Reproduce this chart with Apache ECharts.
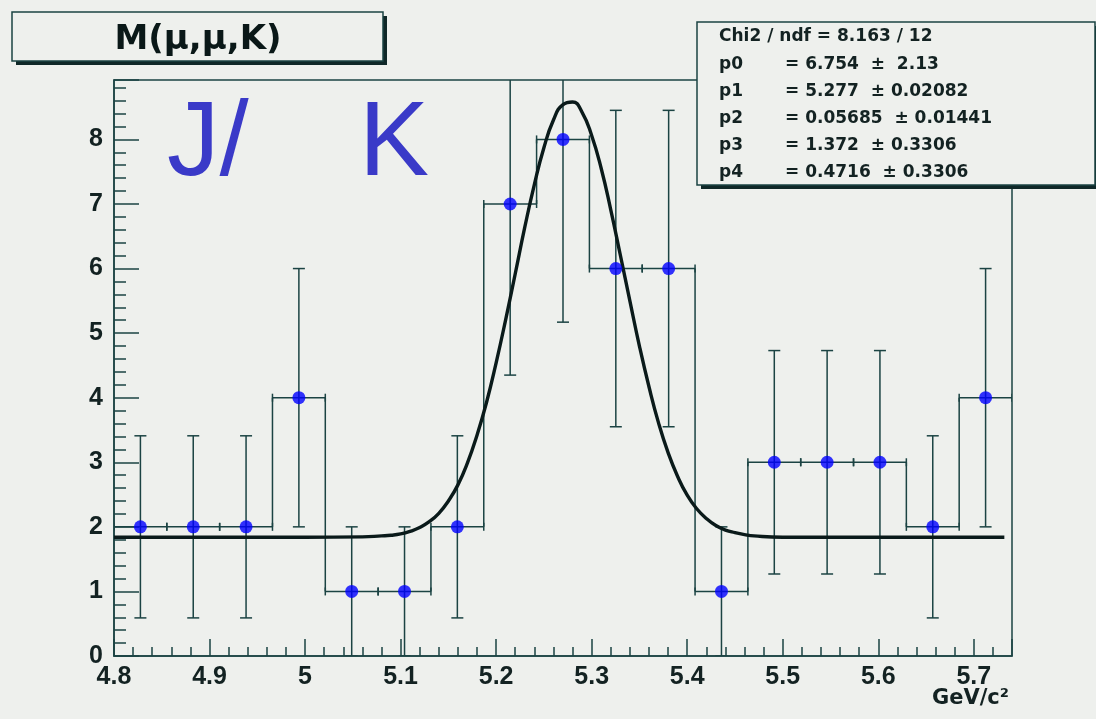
<!DOCTYPE html>
<html><head><meta charset="utf-8">
<script src="https://cdn.jsdelivr.net/npm/echarts@6/dist/echarts.min.js"></script>
<style>html,body{margin:0;padding:0;background:#eef0ed;}#c{width:1096px;height:719px;}</style>
</head><body><div id="c"></div>
<script>
// ---- data ----
const histRange = [4.8, 5.74];          // histogram x range (GeV/c^2)
const binCount = 17;
const counts = [2, 2, 2, 4, 1, 1, 2, 7, 8, 6, 6, 1, 3, 3, 3, 2, 4];
const errors = [1.41, 1.41, 1.41, 2.0, 1.0, 1.0, 1.41, 2.65, 2.83, 2.45, 2.45, 1.0, 1.73, 1.73, 1.73, 1.41, 2.0];
const fitX = [4.80, 5.00, 5.06, 5.08, 5.09, 5.10, 5.11, 5.12, 5.13, 5.14, 5.15, 5.16, 5.17, 5.18, 5.19, 5.20,
  5.21, 5.22, 5.23, 5.24, 5.25, 5.26, 5.27, 5.28, 5.29, 5.30, 5.31, 5.32, 5.33, 5.34, 5.35, 5.36, 5.37,
  5.38, 5.39, 5.40, 5.41, 5.42, 5.43, 5.44, 5.45, 5.46, 5.47, 5.50, 5.732];
const fitY = [1.84, 1.84, 1.845, 1.86, 1.87, 1.89, 1.93, 1.99, 2.08, 2.21, 2.40, 2.65, 2.99, 3.42, 3.93, 4.54,
  5.21, 5.92, 6.64, 7.30, 7.87, 8.30, 8.54, 8.58, 8.42, 8.06, 7.55, 6.91, 6.21, 5.50, 4.80, 4.17, 3.61,
  3.15, 2.78, 2.49, 2.28, 2.13, 2.02, 1.95, 1.91, 1.88, 1.86, 1.84, 1.84];
const yRange = [0, 8.92];
const titleText = 'M(\u03bc,\u03bc,K)';
const xAxisTitle = 'GeV/c\u00b2';
const statsHeader = 'Chi2 / ndf = 8.163 / 12';
const statNames = ['p0', 'p1', 'p2', 'p3', 'p4'];
const statValues = ['= 6.754  \u00b1  2.13', '= 5.277  \u00b1 0.02082', '= 0.05685  \u00b1 0.01441', '= 1.372  \u00b1 0.3306', '= 0.4716  \u00b1 0.3306'];
const bigLabels = ['J/', 'K'];

// ---- build ----
const BG = '#eef0ed';
const LINE = '#1b4343';
const TXT = '#132222';
const FONT = '"Liberation Sans", Arial, Helvetica, sans-serif';
const WFONT = '"DejaVu Sans", "Liberation Sans", sans-serif';
const binW = (histRange[1] - histRange[0]) / binCount;
const histData = counts.map((v, i) => [
  histRange[0] + i * binW, histRange[0] + (i + 1) * binW, v, errors[i], i > 0 ? counts[i - 1] : v
]);
const pointData = counts.map((v, i) => [histRange[0] + (i + 0.5) * binW, v]);
const fitData = fitX.map((x, i) => [x, fitY[i]]);

function isMult(v, step) { const r = v / step; return Math.abs(r - Math.round(r)) < 1e-6; }

const chart = echarts.init(document.getElementById('c'), null, {renderer: 'canvas'});
const labelStyle = {fontSize: 25, fontWeight: 'bold', color: TXT, fontFamily: FONT};
const lineSt = {color: LINE, width: 1.5};

const statsGraphics = [];
statsGraphics.push({type: 'rect', shape: {x: 701, y: 26, width: 398, height: 163}, style: {fill: '#0f2828'}, z: 100});
statsGraphics.push({type: 'rect', shape: {x: 697, y: 22, width: 398, height: 163}, style: {fill: BG, stroke: LINE, lineWidth: 1.5}, z: 101});
statsGraphics.push({type: 'text', x: 719, y: 37, style: {text: statsHeader, font: 'bold 17px ' + WFONT, fill: TXT, verticalAlign: 'middle'}, z: 102});
const rowY = [65, 92, 119, 146, 173];
statNames.forEach((n, i) => {
  statsGraphics.push({type: 'text', x: 719, y: rowY[i], style: {text: n, font: 'bold 17px ' + WFONT, fill: TXT, verticalAlign: 'middle'}, z: 102});
  statsGraphics.push({type: 'text', x: 785, y: rowY[i], style: {text: statValues[i], font: 'bold 17px ' + WFONT, fill: TXT, verticalAlign: 'middle'}, z: 102});
});

chart.setOption({
  backgroundColor: BG,
  animation: false,
  grid: {left: 114, right: 84, top: 80, bottom: 63, show: true, borderColor: LINE, borderWidth: 1.5, backgroundColor: 'transparent'},
  xAxis: [
    {type: 'value', min: histRange[0], max: histRange[1], interval: 0.1, position: 'bottom',
     axisLine: {show: true, lineStyle: lineSt}, axisTick: {show: true, inside: true, length: 17, lineStyle: lineSt},
     axisLabel: Object.assign({margin: 9, showMaxLabel: true, formatter: v => isMult(v, 0.1) ? String(+v.toFixed(1)) : ''}, labelStyle),
     splitLine: {show: false}},
    {type: 'value', min: histRange[0], max: histRange[1], interval: 0.02, position: 'bottom', offset: 0,
     axisLine: {show: false}, axisTick: {show: true, inside: true, length: 9, lineStyle: lineSt},
     axisLabel: {show: false}, splitLine: {show: false}}
  ],
  yAxis: [
    {type: 'value', min: yRange[0], max: yRange[1], interval: 1, position: 'left',
     axisLine: {show: true, lineStyle: lineSt}, axisTick: {show: true, inside: true, length: 25, lineStyle: lineSt},
     axisLabel: Object.assign({margin: 11, formatter: v => isMult(v, 1) ? String(Math.round(v)) : ''}, labelStyle),
     splitLine: {show: false}},
    {type: 'value', min: yRange[0], max: yRange[1], interval: 0.2, position: 'left', offset: 0,
     axisLine: {show: false}, axisTick: {show: true, inside: true, length: 12, lineStyle: lineSt},
     axisLabel: {show: false}, splitLine: {show: false}}
  ],
  series: [
    {type: 'custom', xAxisIndex: 0, yAxisIndex: 0, clip: true, z: 2, data: histData,
     encode: {x: [0, 1], y: [2]},
     renderItem(params, api) {
       const lo = api.value(0), hi = api.value(1), v = api.value(2), e = api.value(3), pv = api.value(4);
       const c = (lo + hi) / 2;
       const pL = api.coord([lo, v]), pR = api.coord([hi, v]);
       const cx = api.coord([c, v])[0];
       const pTop = api.coord([c, v + e]), pBot = api.coord([c, v - e]);
       const segs = [
         [pL[0], pL[1], pR[0], pR[1]],
         [pL[0], pL[1] - 4, pL[0], pL[1] + 4],
         [pR[0], pR[1] - 4, pR[0], pR[1] + 4],
         [cx, pTop[1], cx, pBot[1]],
         [cx - 6, pTop[1], cx + 6, pTop[1]],
         [cx - 6, pBot[1], cx + 6, pBot[1]]
       ];
       if (params.dataIndex > 0) {
         const pp = api.coord([lo, pv]);
         segs.push([pL[0], pp[1], pL[0], pL[1]]);
       }
       return {type: 'group', children: segs.map(s => ({type: 'line', shape: {x1: s[0], y1: s[1], x2: s[2], y2: s[3]},
         style: {stroke: LINE, lineWidth: 1.5, fill: null}}))};
     }},
    {type: 'line', xAxisIndex: 0, yAxisIndex: 0, data: fitData, smooth: true, showSymbol: false, symbol: 'none',
     clip: true, z: 4, lineStyle: {color: '#0a1a1a', width: 3.4}},
    {type: 'scatter', xAxisIndex: 0, yAxisIndex: 0, data: pointData, symbol: 'circle', symbolSize: 13, z: 5,
     itemStyle: {color: '#0000ff'}}
  ],
  graphic: [
    {type: 'rect', shape: {x: 16, y: 16, width: 371, height: 49}, style: {fill: '#0f2828'}, z: 100},
    {type: 'rect', shape: {x: 12, y: 12, width: 371, height: 49}, style: {fill: BG, stroke: LINE, lineWidth: 1.5}, z: 101},
    {type: 'text', x: 198, y: 40, style: {text: titleText, font: 'bold 34px ' + WFONT, fill: '#0a1818', align: 'center', verticalAlign: 'middle'}, z: 102},
    {type: 'text', x: 167, y: 146, style: {text: bigLabels[0], font: '105px ' + FONT, fill: '#3a3ac8', verticalAlign: 'middle'}, z: 50},
    {type: 'text', x: 359, y: 146, style: {text: bigLabels[1], font: '105px ' + FONT, fill: '#3a3ac8', verticalAlign: 'middle'}, z: 50},
    {type: 'text', x: 1009, y: 699, style: {text: xAxisTitle, font: 'bold 21px ' + WFONT, fill: TXT, align: 'right', verticalAlign: 'middle'}, z: 50}
  ].concat(statsGraphics)
});
</script>
</body></html>
